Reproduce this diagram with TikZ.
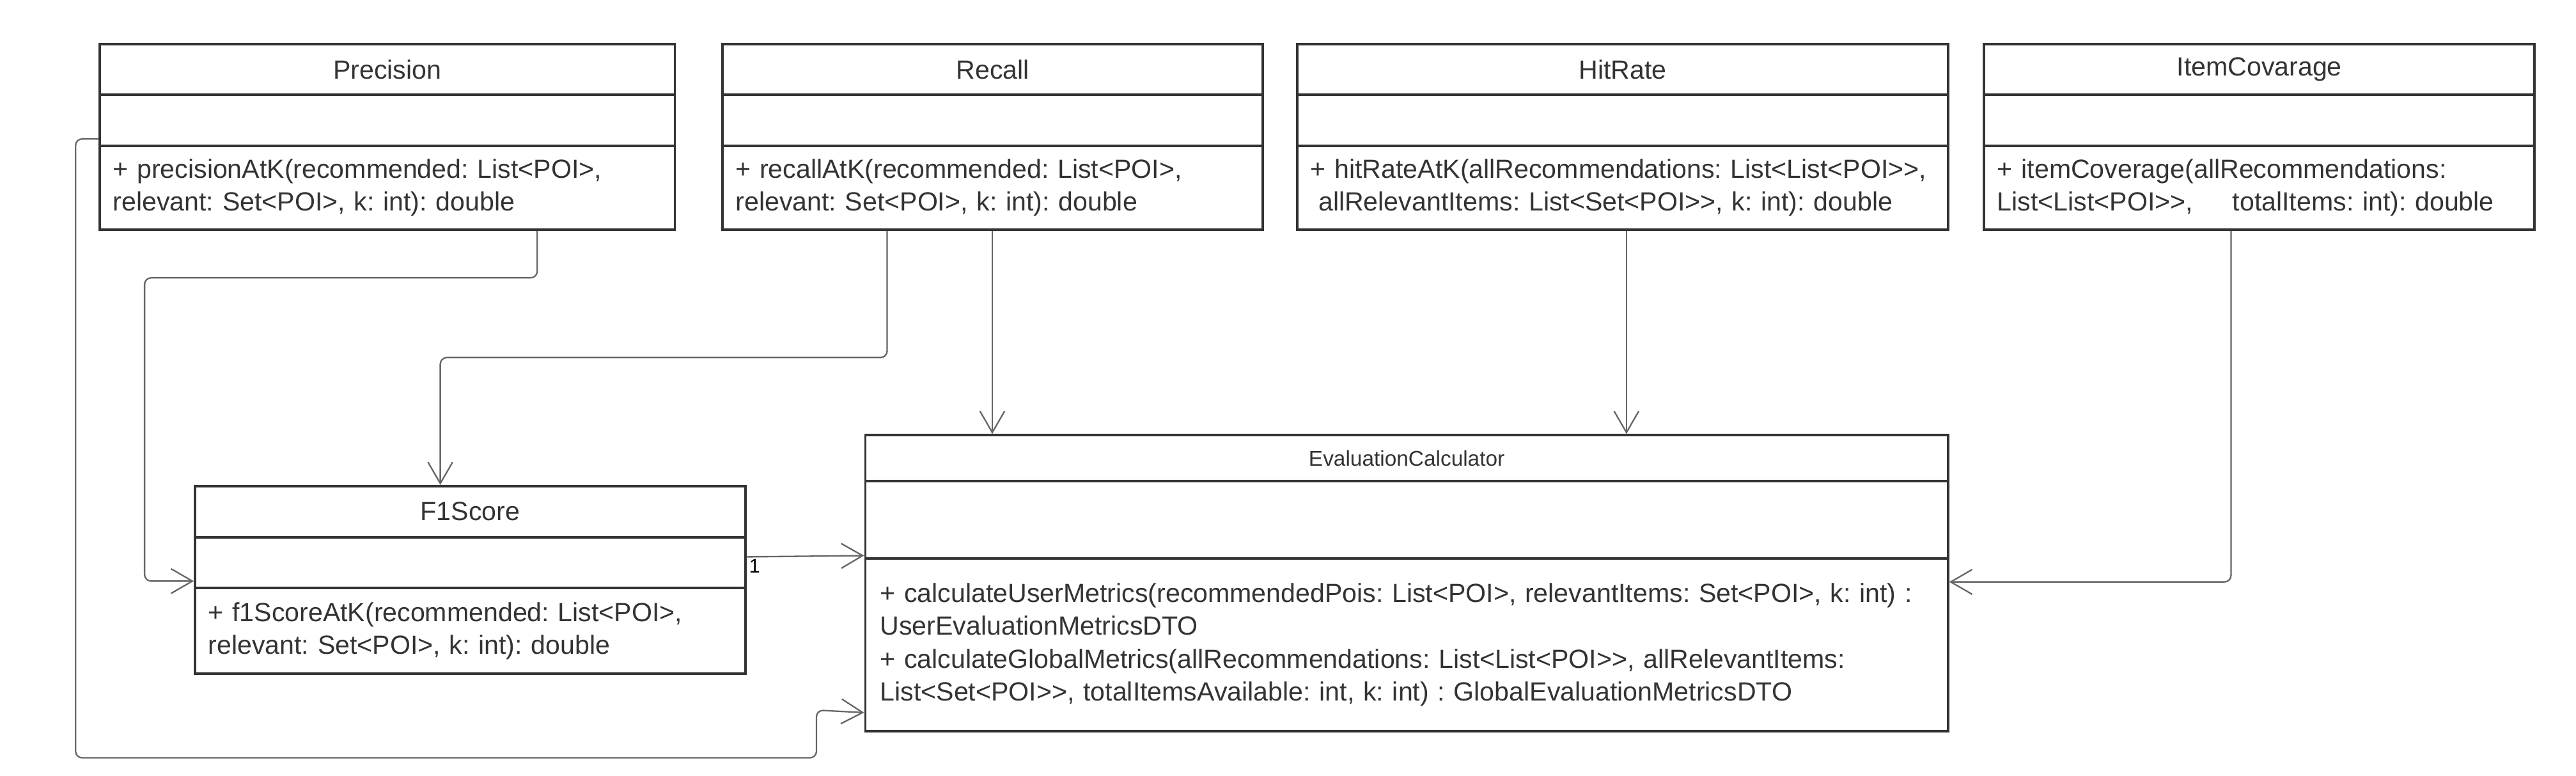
\documentclass[tikz,border=0pt]{standalone}
\usepackage{fontspec}
\setmainfont{Liberation Sans}[Ligatures=TeXOff]
\usetikzlibrary{arrows.meta}
\frenchspacing

\definecolor{boxline}{HTML}{333333}
\definecolor{wireline}{HTML}{666666}
\definecolor{umltext}{HTML}{333333}

\tikzset{
  classbox/.style={draw=boxline, line width=1.5pt, anchor=north west, inner sep=0pt,
    text=umltext, font=\fontsize{16}{20}\selectfont},
  classops/.style={classbox, align=left, inner xsep=8pt},
  wire/.style={draw=wireline, line width=0.9pt, rounded corners=4pt,
    -{Straight Barb[length=13pt,width=15pt]}},
}

\begin{document}
\begin{tikzpicture}[x=1pt, y=1pt]
      \useasboundingbox (0,0) rectangle (1568,-472);

      % Precision
      \node[classbox, minimum width=350pt, minimum height=31pt] (prec) at (60,-26) {Precision};
      \node[classbox, minimum width=350pt, minimum height=31pt] (prec-attr) at (60,-57) {};
      \node[classops, text width=334pt, minimum height=51pt] (prec-ops) at (60,-88)
        {+ precisionAtK(recommended: List<POI>,\\relevant: Set<POI>, k: int): double};

      % Recall
      \node[classbox, minimum width=329pt, minimum height=31pt] (rec) at (439,-26) {Recall};
      \node[classbox, minimum width=329pt, minimum height=31pt] (rec-attr) at (439,-57) {};
      \node[classops, text width=313pt, minimum height=51pt] (rec-ops) at (439,-88)
        {+ recallAtK(recommended: List<POI>,\\relevant: Set<POI>, k: int): double};

      % HitRate
      \node[classbox, minimum width=396pt, minimum height=31pt] (hit) at (789,-26) {HitRate};
      \node[classbox, minimum width=396pt, minimum height=31pt] (hit-attr) at (789,-57) {};
      \node[classops, text width=380pt, minimum height=51pt] (hit-ops) at (789,-88)
        {+ hitRateAtK(allRecommendations: List<List<POI>>,\\\hspace{0.3em}allRelevantItems: List<Set<POI>>, k: int): double};

      % ItemCovarage
      \node[classbox, minimum width=335pt, minimum height=31pt] (cov) at (1207,-26) {ItemCovarage};
      \node[classbox, minimum width=335pt, minimum height=31pt] (cov-attr) at (1207,-57) {};
      \node[classops, text width=319pt, minimum height=51pt] (cov-ops) at (1207,-88)
        {+ itemCoverage(allRecommendations:\\List<List<POI>>,\hspace{1.5em}totalItems: int): double};

      % F1Score
      \node[classbox, minimum width=335pt, minimum height=31pt] (f1) at (118,-295) {F1Score};
      \node[classbox, minimum width=335pt, minimum height=31pt] (f1-attr) at (118,-326) {};
      \node[classops, text width=319pt, minimum height=52pt] (f1-ops) at (118,-357)
        {+ f1ScoreAtK(recommended: List<POI>,\\relevant: Set<POI>, k: int): double};

      % EvaluationCalculator
      \node[classbox, minimum width=659pt, minimum height=28pt, font=\fontsize{13}{16}\selectfont] (ec) at (526,-264) {EvaluationCalculator};
      \node[classbox, minimum width=659pt, minimum height=47pt] (ec-attr) at (526,-292) {};
      \node[classops, text width=641pt, inner xsep=9pt, minimum height=105pt] (ec-ops) at (526,-339)
        {+ calculateUserMetrics(recommendedPois: List<POI>, relevantItems: Set<POI>, k: int) :\\
         UserEvaluationMetricsDTO\\
         + calculateGlobalMetrics(allRecommendations: List<List<POI>>, allRelevantItems:\\
         List<Set<POI>>, totalItemsAvailable: int, k: int) : GlobalEvaluationMetricsDTO};

      % Links into F1Score
      \draw[wire] ([xshift=267pt]prec-ops.south west) |- (88,-169) |- ([yshift=5pt]f1-attr.south west);
      \draw[wire] ([xshift=101pt]rec-ops.south west) -- ++(0,-77) -| ([xshift=150pt]f1.north west);

      % Links into EvaluationCalculator
      \draw[wire] ([xshift=165pt]rec-ops.south west) -- ([xshift=78pt]ec.north west);
      \draw[wire] ([xshift=201pt]hit-ops.south west) -- ([xshift=464pt]ec.north west);
      \draw[wire] ([xshift=151pt]cov-ops.south west) |- ([yshift=-15pt]ec-ops.north east);
      \draw[wire] ([yshift=3.5pt]f1-attr.east) -- ([yshift=1pt]ec-ops.north west)
        node[pos=0, below right, inner sep=1pt, text=black, font=\fontsize{12}{14}\selectfont] {1};
      \draw[wire] ([yshift=5pt]prec-attr.south west) -| (46,-461) -| (497,-432) -- ([yshift=12pt]ec-ops.south west);
    \end{tikzpicture}
\end{document}
